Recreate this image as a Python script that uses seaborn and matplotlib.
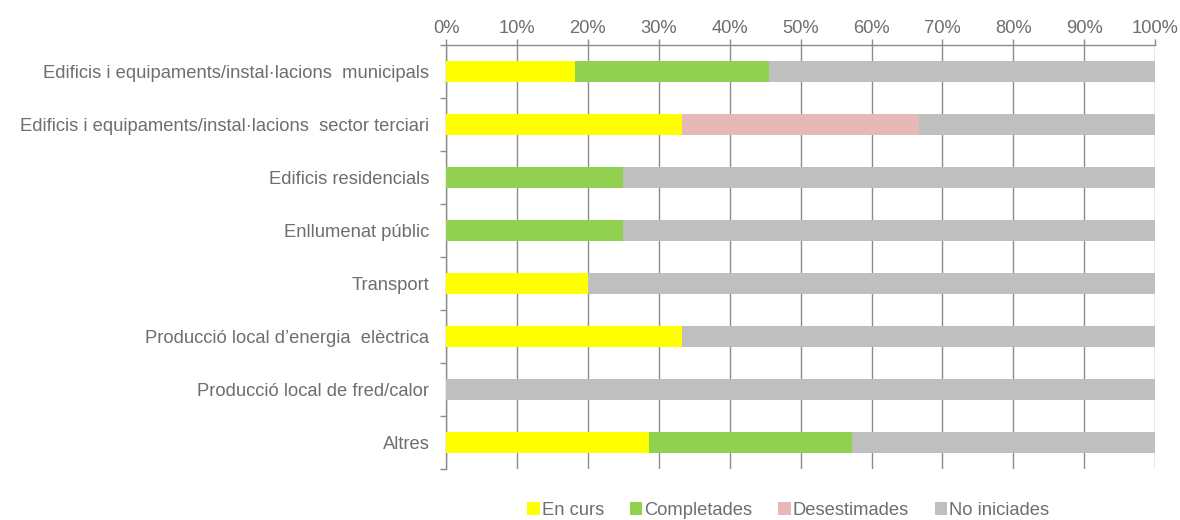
import numpy as np
import pandas as pd
import matplotlib
matplotlib.use('Agg')
import matplotlib.pyplot as plt
import seaborn as sns
from matplotlib.patches import Patch
from matplotlib.ticker import FixedLocator, PercentFormatter

categories = [
    'Edificis i equipaments/instal·lacions  municipals',
    'Edificis i equipaments/instal·lacions  sector terciari',
    'Edificis residencials',
    'Enllumenat públic',
    'Transport',
    "Producció local d’energia  elèctrica",
    'Producció local de fred/calor',
    'Altres',
]
en_curs = [18.2, 33.3, 0, 0, 20.0, 33.3, 0, 28.6]
completades = [27.3, 0, 25.0, 25.0, 0, 0, 0, 28.6]
desestimades = [0, 33.4, 0, 0, 0, 0, 0, 0]
no_iniciades = [54.5, 33.3, 75.0, 75.0, 80.0, 66.7, 100.0, 42.8]

series = ['En curs', 'Completades', 'Desestimades', 'No iniciades']
colors = ['#FFFF00', '#92D050', '#E6B9B8', '#BFBFBF']
text_color = '#6e6e6e'
line_color = '#8c8c8c'

df = pd.DataFrame({'cat': categories, 'En curs': en_curs, 'Completades': completades,
                   'Desestimades': desestimades, 'No iniciades': no_iniciades})
cum = df[series].cumsum(axis=1)

sns.set_style('white')
plt.rcParams['font.family'] = ['Liberation Sans', 'DejaVu Sans']
plt.rcParams['font.size'] = 13.2

fig, ax = plt.subplots(figsize=(11.8, 5.2), dpi=100)
fig.subplots_adjust(left=0.378, right=0.979, top=0.9135, bottom=0.098)

# draw widest layer first, then overlay the shorter cumulative layers
for name, col in reversed(list(zip(series, colors))):
    sns.barplot(x=cum[name], y=df['cat'], color=col, width=0.4, linewidth=0,
                orient='h', ax=ax, zorder=3, saturation=1)

ax.set_xlim(0, 100)
ax.set_ylim(len(categories) - 0.5, -0.5)
ax.set_xlabel('')
ax.set_ylabel('')
ax.xaxis.tick_top()
ax.xaxis.set_major_locator(FixedLocator(np.arange(0, 101, 10)))
ax.xaxis.set_major_formatter(PercentFormatter(decimals=0))
ax.grid(axis='x', color=line_color, linewidth=1, zorder=0)
ax.set_axisbelow(True)

ax.yaxis.set_minor_locator(FixedLocator(np.arange(-0.5, len(categories), 1)))
ax.tick_params(axis='y', which='major', left=True, length=0, pad=12, colors=text_color)
ax.tick_params(axis='y', which='minor', left=True, length=4, width=1,
               color=line_color, direction='out')
ax.tick_params(axis='x', which='major', top=True, length=4, width=1, color=line_color,
               direction='out', labelcolor=text_color, pad=1.5)

for side in ['right', 'bottom']:
    ax.spines[side].set_visible(False)
for side in ['left', 'top']:
    ax.spines[side].set_color(line_color)
    ax.spines[side].set_linewidth(1)

handles = [Patch(facecolor=c, edgecolor='none') for c in colors]
leg = fig.legend(handles, series, loc='lower center', bbox_to_anchor=(0.668, -0.03),
                 ncol=4, frameon=False, handlelength=0.7, handleheight=0.7,
                 handletextpad=0.1, columnspacing=1.4, fontsize=13.2)
for t in leg.get_texts():
    t.set_color(text_color)

fig.savefig('out.png', dpi=100)
plt.close(fig)
